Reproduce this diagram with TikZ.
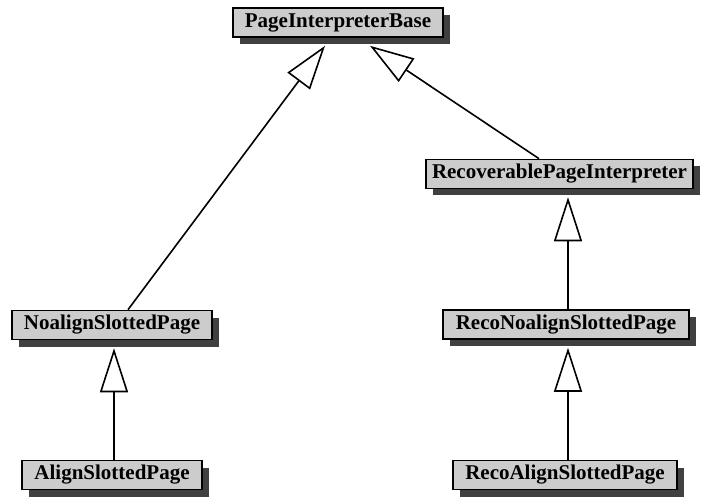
\documentclass[tikz,border=0pt]{standalone}
\usepackage{fontspec}
\setmainfont{Liberation Serif}
\usetikzlibrary{arrows.meta,shadows}
\definecolor{boxfill}{gray}{0.80}
\definecolor{boxshadow}{gray}{0.25}
\tikzset{
  classbox/.style={draw=black, line width=1.6pt, fill=boxfill,
    inner sep=0pt, minimum height=29pt,
    font=\fontsize{21}{23}\selectfont\bfseries,
    drop shadow={shadow xshift=7pt, shadow yshift=-7pt, fill=boxshadow, opacity=1}},
  inherits/.style={line width=1.6pt,
    -{Triangle[length=44pt,width=28pt,fill=white,line width=1.6pt]}}
}
\begin{document}
\begin{tikzpicture}[x=1pt,y=-1pt]
\useasboundingbox (0,0) rectangle (701,497);
% classes
\node[classbox, minimum width=210pt] (pib)  at (338,22.5)  {PageInterpreterBase};
\node[classbox, minimum width=267pt] (rpi)  at (559.5,174) {RecoverablePageInterpreter};
\node[classbox, minimum width=200pt] (nsp)  at (112,325)   {NoalignSlottedPage};
\node[classbox, minimum width=246pt] (rnsp) at (566,324.5) {RecoNoalignSlottedPage};
\node[classbox, minimum width=180pt] (asp)  at (112,475)   {AlignSlottedPage};
\node[classbox, minimum width=224pt] (rasp) at (565,475)   {RecoAlignSlottedPage};
% generalisations
\draw[inherits] ([xshift=16pt]nsp.north) -- ([xshift=-13pt,yshift=-8pt]pib.south);
\draw[inherits] ([xshift=-20.5pt]rpi.north) -- ([xshift=32pt,yshift=-8pt]pib.south);
\draw[inherits] ([xshift=2pt]asp.north) -- ([xshift=2pt,yshift=-8pt]nsp.south);
\draw[inherits] ([xshift=2pt]rnsp.north) -- ([xshift=8.5pt,yshift=-8pt]rpi.south);
\draw[inherits] ([xshift=3pt]rasp.north) -- ([xshift=2pt,yshift=-8pt]rnsp.south);
\end{tikzpicture}
\end{document}
